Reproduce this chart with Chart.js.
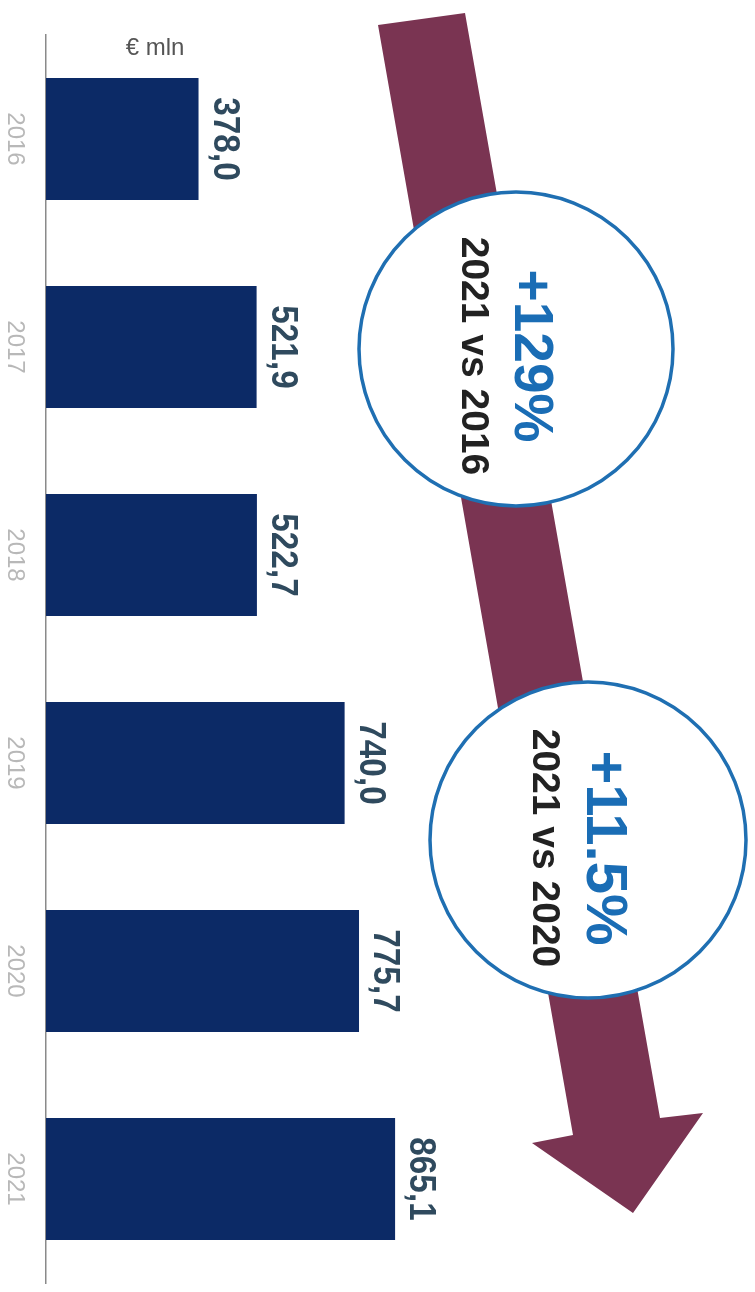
<!DOCTYPE html>
<html>
<head>
<meta charset="utf-8">
<script src="https://cdn.jsdelivr.net/npm/chart.js@4.4.0/dist/chart.umd.min.js"></script>
<style>
  html, body { margin: 0; padding: 0; background: #ffffff; }
  #wrap { width: 755px; height: 1292px; position: relative; }
</style>
</head>
<body>
<div id="wrap"><canvas id="revenueChart"></canvas></div>
<script>
const years = ["2016", "2017", "2018", "2019", "2020", "2021"];
const revenue = [378.0, 521.9, 522.7, 740.0, 775.7, 865.1];
const unitLabel = "€ mln";
const badgeValues = ["+129%", "+11.5%"];
const badgeCaptions = ["2021 vs 2016", "2021 vs 2020"];

const fontFamily = '"Liberation Sans", Arial, sans-serif';

function fmt(v) {
  return v.toFixed(1).replace(".", ",");
}

// draws text turned 90deg clockwise, glyph bottoms facing left
function rotText(ctx, text, baseX, centerY, font, color, squeeze) {
  ctx.save();
  ctx.translate(baseX, centerY);
  ctx.rotate(Math.PI / 2);
  ctx.scale(squeeze || 1, 1);
  ctx.font = font;
  ctx.fillStyle = color;
  ctx.textAlign = "center";
  ctx.textBaseline = "alphabetic";
  ctx.fillText(text, 0, 0);
  ctx.restore();
}

const labelsPlugin = {
  id: "labels",
  afterDraw(chart) {
    const ctx = chart.ctx;
    const meta = chart.getDatasetMeta(0);
    const yScale = chart.scales.y;

    // decoration arrow
    ctx.save();
    ctx.fillStyle = "#7a3452";
    ctx.beginPath();
    ctx.moveTo(378, 25);
    ctx.lineTo(465, 13);
    ctx.lineTo(660, 1118);
    ctx.lineTo(703, 1113);
    ctx.lineTo(633, 1213);
    ctx.lineTo(532, 1143);
    ctx.lineTo(573, 1135);
    ctx.closePath();
    ctx.fill();
    ctx.restore();

    // badges
    const badges = [
      { cx: 516, cy: 349, r: 157, big: 515, small: 462, ty: 356 },
      { cx: 588, cy: 840, r: 158, big: 587, small: 533, ty: 848 },
    ];
    badges.forEach((b, i) => {
      ctx.save();
      ctx.beginPath();
      ctx.arc(b.cx, b.cy, b.r, 0, Math.PI * 2);
      ctx.fillStyle = "#ffffff";
      ctx.fill();
      ctx.lineWidth = 3.5;
      ctx.strokeStyle = "#1f6fb2";
      ctx.stroke();
      ctx.restore();
      const bigSize = i === 0 ? 55 : 58;
      rotText(ctx, badgeValues[i], b.big, b.ty, "bold " + bigSize + "px " + fontFamily, "#1a6db5");
      rotText(ctx, badgeCaptions[i], b.small, b.ty, "bold 39px " + fontFamily, "#222222");
    });

    // value labels at bar ends
    meta.data.forEach((bar, i) => {
      rotText(ctx, fmt(revenue[i]), bar.x + 15, bar.y, "bold 37px " + fontFamily, "#2f4a5e", 0.9);
    });

    // year labels left of the axis
    years.forEach((yr, i) => {
      rotText(ctx, yr, 8, yScale.getPixelForValue(i), "24px " + fontFamily, "#b8b8b8");
    });

    // unit
    ctx.save();
    ctx.font = "24px " + fontFamily;
    ctx.fillStyle = "#555555";
    ctx.textAlign = "center";
    ctx.textBaseline = "middle";
    ctx.fillText(unitLabel, 155, 48);
    ctx.restore();
  },
};

new Chart(document.getElementById("revenueChart"), {
  type: "bar",
  data: {
    labels: years,
    datasets: [
      {
        label: unitLabel,
        data: revenue,
        backgroundColor: "#0c2a66",
        borderWidth: 0,
        categoryPercentage: 1,
        barPercentage: 0.587,
      },
    ],
  },
  options: {
    indexAxis: "y",
    responsive: true,
    maintainAspectRatio: false,
    animation: false,
    layout: {
      padding: { top: 35, bottom: 9, left: 0, right: 0 },
    },
    plugins: {
      legend: { display: false },
      tooltip: { enabled: false },
    },
    scales: {
      x: {
        display: false,
        min: 0,
        max: 1757,
      },
      y: {
        grid: { display: false },
        ticks: { display: false },
        border: { display: true, color: "#8a8a8a", width: 1.5 },
        afterFit(scale) {
          scale.width = 46;
        },
      },
    },
  },
  plugins: [labelsPlugin],
});
</script>
</body>
</html>
